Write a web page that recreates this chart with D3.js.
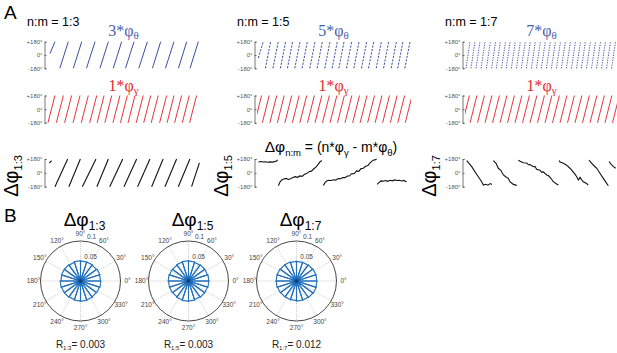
<!DOCTYPE html>
<html>
<head>
<meta charset="utf-8">
<title>n:m phase coupling</title>
<script src="https://cdn.jsdelivr.net/npm/d3@7/dist/d3.min.js"></script>
<style>
  * { margin: 0; padding: 0 }
  body { background: #fff; }
  svg { display: block; font-family: "Liberation Sans", Arial, sans-serif; }
  .ax path, .ax line { stroke: #555; stroke-width: 0.8; }
  .ax text { fill: #555; }
</style>
</head>
<body>
<svg id="fig" width="617" height="353"></svg>
<script>
// --- data ---
const ratios = ["1:3", "1:5", "1:7"];
const thetaMult = [3, 5, 7];
const phaseTicks = [-180, 0, 180];
const rLabels = ["0.003", "0.003", "0.012"];
const angleTicks = [0, 30, 60, 90, 120, 150, 180, 210, 240, 270, 300, 330];
const rTicks = [0.05, 0.1];

// sawtooth segments: [tStart, tEnd, phaseStart(-180), phaseEnd(+180)]
const theta13 = [[2.0,5.2,20,180],[8.4,13.9],[17.2,22.7],[25.8,31.4],[34.6,40.1],[43.3,48.8],[51.3,56.9],[60.0,65.6],[68.9,74.3],[77.4,83.0],[85.9,91.3],[93.5,98.9]];
const theta15 = [[0.9,4.1,-40,180],[5.5,8.9],[10.4,13.9],[15.3,18.7],[19.9,23.3],[24.7,28.1],[29.5,32.9],[34.5,37.9],[39.3,42.7],[44.3,47.7],[49.1,52.5],[53.5,56.9],[58.5,61.9],[63.3,66.7],[68.3,71.7],[72.9,76.3],[77.9,81.3],[82.7,86.1],[87.7,91.1],[92.0,95.4],[96.6,100.0]];
const theta17 = [[0.7,3.3],[3.9,6.5],[7.2,9.8],[10.5,13.1],[14.0,16.6],[17.4,20.0],[20.5,23.1],[23.9,26.5],[26.9,29.5],[30.3,32.9],[33.6,36.2],[36.8,39.4],[40.1,42.7],[43.4,46.0],[46.7,49.3],[49.9,52.5],[53.2,55.8],[56.5,59.1],[59.8,62.4],[63.0,65.6],[66.3,68.9],[69.6,72.2],[72.9,75.5],[76.1,78.7],[79.4,82.0],[82.7,85.3],[86.0,88.6],[89.2,91.8],[92.5,95.1],[95.8,98.4]];

const gamma13 = [[0.6,5.2],[6.1,10.7],[11.5,16.1],[17.0,21.6],[22.4,27.0],[27.9,32.5],[32.8,37.3],[37.8,42.3],[43.1,47.7],[48.0,52.5],[53.0,57.5],[58.3,62.9],[63.2,67.8],[68.1,72.7],[73.6,78.2],[78.5,83.0],[83.4,88.0],[88.4,93.0],[93.2,97.8]];
const gamma15 = [[-1.5,3.0],[3.5,8.0],[8.4,12.9],[13.3,17.8],[18.2,22.7],[23.1,27.6],[28.0,32.5],[33.0,37.5],[37.9,42.4],[42.8,47.3],[47.7,52.2],[52.6,57.1],[57.5,62.0],[62.5,67.0],[67.4,71.9],[72.3,76.8],[77.2,81.7],[82.1,86.6],[87.1,91.6],[92.0,96.5],[96.9,101.4]];
const gamma17 = [[-1.6,2.9],[3.3,7.8],[8.2,12.7],[13.1,17.6],[18.0,22.5],[22.9,27.4],[27.8,32.3],[32.7,37.2],[37.6,42.1],[42.5,47.0],[47.4,51.9],[52.3,56.8],[57.2,61.7],[62.1,66.6],[67.0,71.5],[71.9,76.4],[76.8,81.3],[81.7,86.2],[86.6,91.1],[91.5,96.0],[96.4,100.9]];

const dphi13 = [[1.5,3.0,128,160],[5.2,13.5],[14.3,21.8],[23.1,32.0],[32.6,40.1],[41.0,49.5],[50.3,58.6],[59.2,67.3],[68.4,75.9],[77.1,84.7],[85.8,93.4],[94.5,99.6,-180,130]];

// wrapped phase samples [t, phase]
const dphi15 = [[1,140],[2.5,147],[4,141],[5.5,145],[7,137],[8.5,142],[10,140],[11.5,146],[12.8,155],[13.5,170],
  [14,-167],[15,-120],[16,-95],[17.5,-80],[19,-72],[20.5,-86],[22,-78],[23.5,-60],[25,-50],[26.5,-58],[28,-40],[29.5,-45],[31,-18],[32.5,-10],[34,15],[35.5,22],[37,50],[38.5,75],[40,110],[41,140],[42.3,160],
  [43.4,-163],[44.5,-125],[45.5,-106],[47,-96],[48.5,-100],[50,-90],[51.5,-95],[53,-74],[54.5,-78],[56,-60],[57.5,-62],[59,-42],[60.5,-38],[62,-8],[63.5,-12],[65,25],[66.5,20],[68,55],[69.5,60],[71,85],[72.5,95],[74,132],[75,150],[76,165],[77.5,172],[78.2,176],
  [78.6,-150],[79.5,-130],[81,-105],[82.5,-108],[84,-100],[85.5,-110],[87,-96],[88.5,-104],[90,-92],[91.5,-100],[93,-96],[94.5,-105],[96,-98],[97.8,-120]];
const dphi17 = [[1.1,158],[2.2,132],[4.4,80],[6.5,15],[8.7,-50],[10.9,-115],[12,-158],[13.5,-148],[15,-160],[16.5,-140],[17.5,-150],
  [18.5,158],[20.3,124],[21.8,59],[23.3,37],[25.1,-28],[26.6,-50],[28.3,-72],[29.4,-115],[31.6,-150],[33.8,-163],
  [34.8,165],[36,150],[38.1,132],[40.3,128],[41.5,105],[42.5,108],[44.7,80],[45.8,82],[46.8,46],[49,35],[50,10],[51.2,12],[53.4,-28],[54.5,-35],[55.6,-59],[56.5,-80],[57.7,-115],[59.9,-145],[61,-158],
  [61.5,160],[62.1,140],[64.3,124],[66.4,100],[68.6,60],[70.8,10],[72,-20],[73,-50],[74.1,-93],[75.2,-59],[76.2,-90],[77.3,-115],[79.5,-137],[80.5,-160],
  [81,167],[81.7,150],[83.9,102],[86.1,59],[88.2,-6],[90.4,-72],[92.6,-137],[93.7,-167],
  [94.2,145],[95.9,102],[97,80],[98.5,59]];

// polar histograms (probability per bin, 20 bins)
const rose13 = [0.050,0.051,0.049,0.050,0.050,0.051,0.049,0.050,0.050,0.049,0.051,0.050,0.050,0.049,0.050,0.051,0.050,0.049,0.050,0.051];
const rose15 = [0.051,0.050,0.050,0.049,0.050,0.051,0.050,0.049,0.050,0.051,0.050,0.050,0.049,0.050,0.051,0.050,0.049,0.050,0.050,0.051];
const rose17 = [0.051,0.051,0.050,0.049,0.049,0.049,0.050,0.050,0.051,0.051,0.051,0.050,0.049,0.049,0.049,0.050,0.050,0.051,0.052,0.051];

const thetaSets = [theta13, theta15, theta17];
const gammaSets = [gamma13, gamma15, gamma17];
const roseSets = [rose13, rose15, rose17];

// --- layout ---
const svg = d3.select("#fig");
const colLeft = [47, 257, 465];
const plotW = 153;
const rows = { theta: [68.3, 41.7], gamma: [122.8, 95.5], dphi: [186.7, 159] };
const blue = "#3a50a3", red = "#e8343c";
const serif = "'Liberation Serif', 'Times New Roman', serif";

const defs = svg.append("defs");

function panel(ci, row, key) {
  const left = colLeft[ci];
  const x = d3.scaleLinear().domain([0, 100]).range([left, left + plotW]);
  const y = d3.scaleLinear().domain([-180, 180]).range(row);
  const ax = svg.append("g").attr("class", "ax")
    .attr("transform", `translate(${left - 2.5},0)`)
    .call(d3.axisLeft(y).tickValues(phaseTicks).tickSize(-2).tickSizeOuter(-2).tickPadding(2)
      .tickFormat(d => (d > 0 ? "+" : "") + d + "°"));
  ax.attr("font-size", 6).attr("font-family", null);
  const id = `clip-${key}-${ci}`;
  defs.append("clipPath").attr("id", id).append("rect")
    .attr("x", left).attr("y", row[1] - 3).attr("width", plotW + 1).attr("height", row[0] - row[1] + 6);
  const g = svg.append("g").attr("clip-path", `url(#${id})`);
  return { x, y, g };
}

function drawSaw(p, segs, color, width, dash) {
  const line = d3.line().x(d => p.x(d[0])).y(d => p.y(d[1]));
  p.g.selectAll(null).data(segs).join("path")
    .attr("d", s => line([[s[0], s.length > 2 ? s[2] : -180], [s[1], s.length > 3 ? s[3] : 180]]))
    .attr("fill", "none").attr("stroke", color).attr("stroke-width", width)
    .attr("stroke-dasharray", dash || null);
}

function splitWraps(pts) {
  const out = [[]];
  pts.forEach((pt, i) => {
    if (i && Math.abs(pt[1] - pts[i - 1][1]) > 180) out.push([]);
    out[out.length - 1].push(pt);
  });
  return out;
}

function drawWrapped(p, pts) {
  const line = d3.line().x(d => p.x(d[0])).y(d => p.y(d[1]));
  p.g.selectAll(null).data(splitWraps(pts)).join("path")
    .attr("d", line).attr("fill", "none").attr("stroke", "#111").attr("stroke-width", 1.1);
}

// panel letters
svg.append("text").attr("x", 4).attr("y", 19).attr("font-size", 19).text("A");
svg.append("text").attr("x", 4).attr("y", 222).attr("font-size", 19).text("B");

const dashes = [null, "2.2 1.3", "1.2 1.3"];

ratios.forEach((rt, ci) => {
  const cx = colLeft[ci] + plotW / 2;
  svg.append("text").attr("x", colLeft[ci] - 20).attr("y", 26).attr("font-size", 12.5).text(`n:m = ${rt}`);

  const pt = panel(ci, rows.theta, "th");
  drawSaw(pt, thetaSets[ci], blue, 1, dashes[ci]);
  const t1 = svg.append("text").attr("x", cx).attr("y", 36).attr("text-anchor", "middle")
    .attr("font-family", serif).attr("font-size", 16).attr("fill", "#4a5fab");
  t1.append("tspan").text(`${thetaMult[ci]}*φ`);
  t1.append("tspan").attr("font-size", 11).attr("dy", 3).text("θ");

  const pg = panel(ci, rows.gamma, "ga");
  drawSaw(pg, gammaSets[ci], red, 1);
  const t2 = svg.append("text").attr("x", cx).attr("y", 91).attr("text-anchor", "middle")
    .attr("font-family", serif).attr("font-size", 16).attr("fill", "#e3262f");
  t2.append("tspan").text("1*φ");
  t2.append("tspan").attr("font-size", 11).attr("dy", 3).text("γ");

  const pd = panel(ci, rows.dphi, "dp");
  if (ci === 0) drawSaw(pd, dphi13, "#111", 1.1);
  if (ci === 1) drawWrapped(pd, dphi15);
  if (ci === 2) drawWrapped(pd, dphi17);

  const yl = svg.append("text")
    .attr("transform", `translate(${colLeft[ci] - 29},176) rotate(-90)`)
    .attr("text-anchor", "middle").attr("font-size", 20);
  yl.append("tspan").text("Δφ");
  yl.append("tspan").attr("font-size", 11).attr("dy", 3.5).text(rt);
});

// combined formula title
const ft = svg.append("text").attr("x", 331).attr("y", 152).attr("text-anchor", "middle").attr("font-size", 14);
ft.append("tspan").attr("font-size", 15.5).text("Δφ");
ft.append("tspan").attr("font-size", 9.5).attr("dy", 4).text("n:m");
ft.append("tspan").attr("dy", -4).text(" = (n*φ");
ft.append("tspan").attr("font-size", 9.5).attr("dy", 4).text("γ");
ft.append("tspan").attr("dy", -4).text(" - m*φ");
ft.append("tspan").attr("font-size", 9.5).attr("dy", 4).text("θ");
ft.append("tspan").attr("dy", -4).text(")");

// --- panel B: polar histograms ---
const roseCx = [80.5, 188.5, 296.5], roseCy = 281;
const r = d3.scaleLinear().domain([0, 0.1]).range([0, 40]);
const ang = d3.scaleLinear().domain([0, 360]).range([Math.PI / 2, Math.PI / 2 - 2 * Math.PI]);
const radial = d3.lineRadial().angle(d => ang(d[0])).radius(d => r(d[1]));
const polar = (deg, rad) => [rad * Math.cos(deg * Math.PI / 180), -rad * Math.sin(deg * Math.PI / 180)];

roseSets.forEach((vals, ci) => {
  const g = svg.append("g").attr("transform", `translate(${roseCx[ci]},${roseCy})`);
  // grid spokes
  g.selectAll(null).data(angleTicks).join("path")
    .attr("d", d => radial([[d, 0], [d, 0.1]]))
    .attr("stroke", "#aaa").attr("stroke-width", 0.6).attr("stroke-dasharray", "1 1").attr("fill", "none");
  g.selectAll(null).data(rTicks.slice(0, -1)).join("circle")
    .attr("r", d => r(d)).attr("fill", "none").attr("stroke", "#bbb").attr("stroke-width", 0.5).attr("stroke-dasharray", "1 1");
  g.append("circle").attr("r", r(0.1)).attr("fill", "none").attr("stroke", "#333").attr("stroke-width", 0.9);

  // rose wedges
  const n = vals.length, step = 360 / n;
  g.selectAll(null).data(vals).join("path")
    .attr("d", (v, i) => radial([[i * step, 0], [i * step, v], [(i + 1) * step, v], [(i + 1) * step, 0]]))
    .attr("fill", "none").attr("stroke", "#1f6fbd").attr("stroke-width", 1.1);
  g.append("circle").attr("r", 2).attr("fill", "#163f73");

  // angle labels
  g.selectAll(null).data(angleTicks).join("text")
    .attr("x", d => polar(d, 47)[0]).attr("y", d => polar(d, 47)[1] + 2.3)
    .attr("text-anchor", "middle").attr("font-size", 6.5).attr("fill", "#444")
    .text(d => d + "°");
  // radial labels
  g.selectAll(null).data(rTicks).join("text")
    .attr("x", d => polar(82, r(d))[0] + 1).attr("y", d => polar(82, r(d))[1] - 2)
    .attr("font-size", 6.5).attr("fill", "#444").text(d => d);

  const tt = svg.append("text").attr("x", roseCx[ci] + 4).attr("y", 226).attr("text-anchor", "middle").attr("font-size", 19);
  tt.append("tspan").text("Δφ");
  tt.append("tspan").attr("font-size", 12).attr("dy", 4).text(ratios[ci]);

  const rl = svg.append("text").attr("x", roseCx[ci]).attr("y", 348).attr("text-anchor", "middle").attr("font-size", 10).attr("fill", "#222");
  rl.append("tspan").text("R");
  rl.append("tspan").attr("font-size", 6).attr("dy", 2).text(ratios[ci]);
  rl.append("tspan").attr("dy", -2).text("= " + rLabels[ci]);
});
</script>
</body>
</html>
